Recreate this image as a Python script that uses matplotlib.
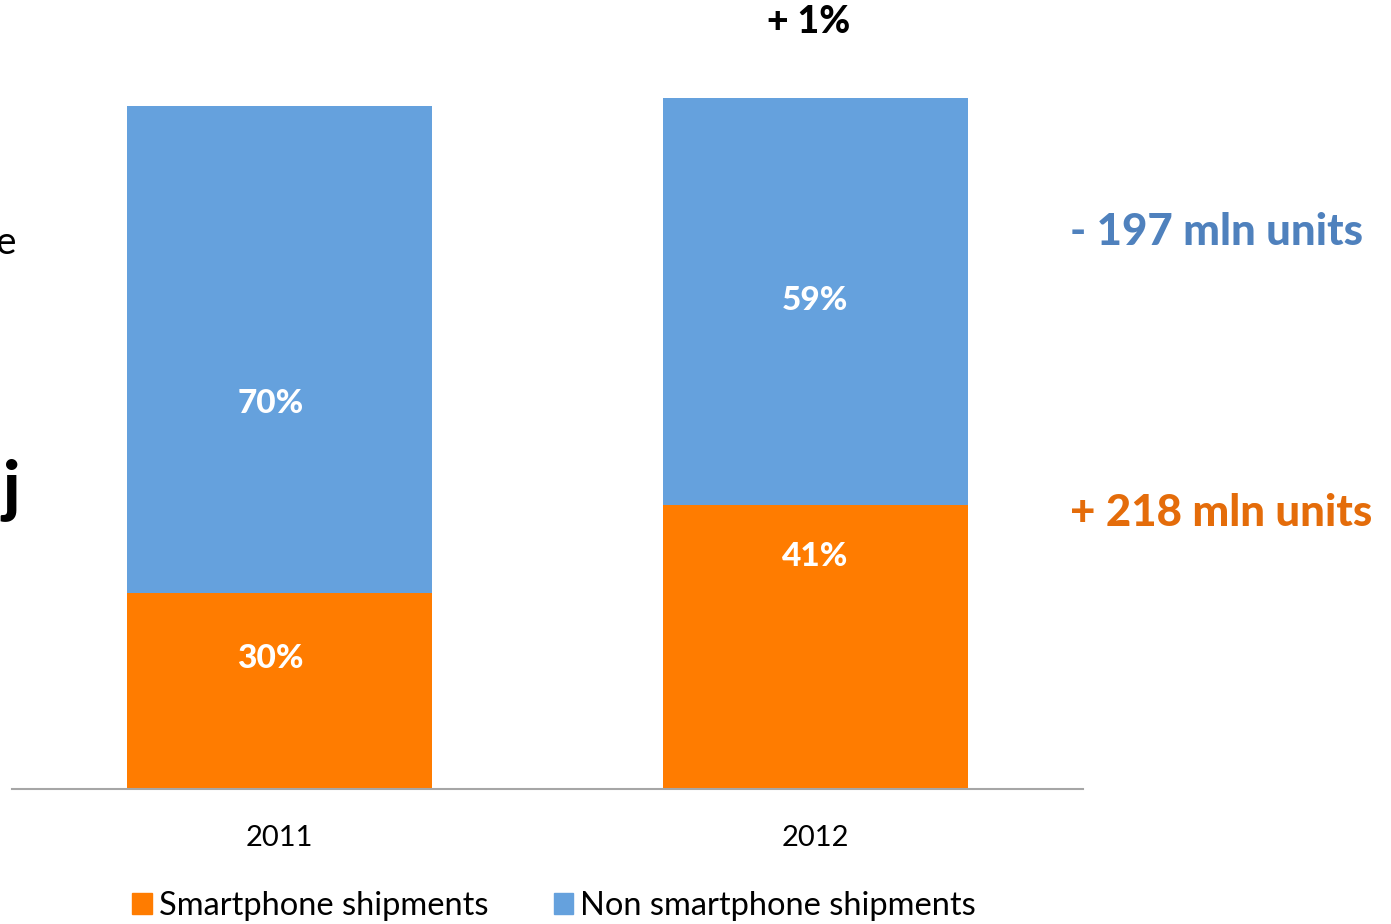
import numpy as np
import matplotlib
matplotlib.use("Agg")
import matplotlib.pyplot as plt
from matplotlib.patches import Patch

# ---------------------------------------------------------
# Data (mln units)
# ---------------------------------------------------------
YEARS = ["2011", "2012"]
SMARTPHONE = [485, 703]
NON_SMARTPHONE = [1206, 1008]
SMART_PCT = ["30%", "41%"]
NON_PCT = ["70%", "59%"]

TOTAL_CHANGE = "+ 1%"
NON_CHANGE = "- 197 mln units"
SMART_CHANGE = "+ 218 mln units"

ORANGE = "#FF7C00"
BLUE = "#65A1DD"
TXT_BLUE = "#4F81BD"
TXT_ORANGE = "#E46C0A"

plt.rcParams["font.family"] = ["Lato", "DejaVu Sans"]

W, H = 1391, 924
fig = plt.figure(figsize=(W / 100, H / 100), dpi=100)
ax = fig.add_axes([12 / W, (H - 789) / H, (1083 - 12) / W, (789 - 60) / H])

x = np.arange(len(YEARS))
width = 0.57
ax.bar(x, SMARTPHONE, width, color=ORANGE)
ax.bar(x, NON_SMARTPHONE, width, bottom=SMARTPHONE, color=BLUE)

ax.set_xlim(-0.5, 1.5)
ax.set_ylim(0, 1806)
ax.set_xticks(x)
ax.set_xticklabels(YEARS, fontsize=21)
ax.tick_params(axis="x", length=0, pad=26)
ax.set_yticks([])
for s in ["top", "right", "left"]:
    ax.spines[s].set_visible(False)
ax.spines["bottom"].set_color("#A6A6A6")
ax.spines["bottom"].set_linewidth(1.5)

# segment labels (positions in data units)
label_dx = [-0.017, 0.0]
smart_label_y = [324, 577]
non_label_y = [956, 1211]
for i in range(len(YEARS)):
    ax.text(x[i] + label_dx[i], smart_label_y[i], SMART_PCT[i], ha="center",
            va="center", color="white", fontsize=24, fontweight=900)
    ax.text(x[i] + label_dx[i], non_label_y[i], NON_PCT[i], ha="center",
            va="center", color="white", fontsize=24, fontweight=900)

# annotations
fig.text(809 / W, 1 - 22 / H, TOTAL_CHANGE, ha="center", va="center",
         fontsize=27, fontweight=900, color="black")
fig.text(1070 / W, 1 - 232 / H, NON_CHANGE, ha="left", va="center",
         fontsize=31.5, fontweight=900, color=TXT_BLUE)
fig.text(1070 / W, 1 - 513 / H, SMART_CHANGE, ha="left", va="center",
         fontsize=31.5, fontweight=900, color=TXT_ORANGE)

# clipped text from the neighbouring box
fig.text(16 / W, 1 - 243 / H, "e", ha="right", va="center", fontsize=28,
         color="black")
fig.text(20 / W, 1 - 490 / H, "j", ha="right", va="center", fontsize=48,
         fontweight=900, color="black")

handles = [Patch(color=ORANGE, label="Smartphone shipments"),
           Patch(color=BLUE, label="Non smartphone shipments")]
fig.legend(handles=handles, loc="center", bbox_to_anchor=(554 / W, 1 - 906 / H),
           ncol=2, frameon=False, fontsize=23.5, handlelength=0.6,
           handleheight=0.65, handletextpad=0.22, columnspacing=2.0,
           borderpad=0, borderaxespad=0)

fig.savefig("out.png", dpi=100)
